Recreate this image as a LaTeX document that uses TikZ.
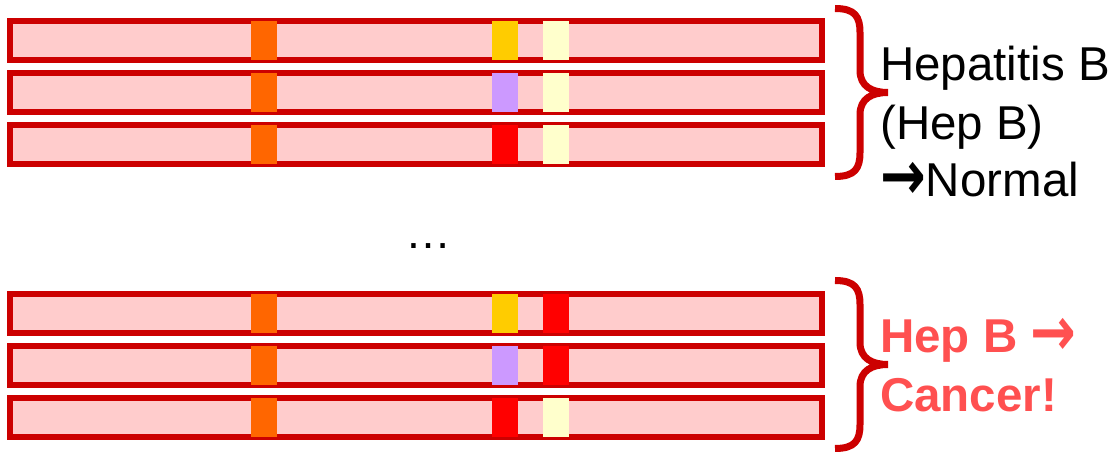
\documentclass[tikz,border=0pt]{standalone}
\usepackage{fontspec}
\setmainfont{Liberation Sans}
\newfontfamily\arrowfont{DejaVu Sans}
\usetikzlibrary{positioning}
\definecolor{chromred}{HTML}{CC0000}
\definecolor{chrompink}{HTML}{FFCCCC}
\definecolor{bandorange}{HTML}{FF6600}
\definecolor{bandyellow}{HTML}{FFCC00}
\definecolor{bandcream}{HTML}{FFFFCC}
\definecolor{bandviolet}{HTML}{CC99FF}
\definecolor{bandred}{HTML}{FF0000}
\definecolor{cancertxt}{HTML}{FF5050}
\newcommand{\bigarr}{\raisebox{-3pt}{\scalebox{1.15}[1.45]{\arrowfont\bfseries →}}}
\tikzset{
  %% Chromosome strip
  chrom/.style={
    rectangle, draw=chromred, fill=chrompink,
    line width=6pt, minimum width=812pt, minimum height=39pt,
    inner sep=0pt
  },
  %% Coloured band on a strip
  band/.style={
    rectangle, fill=#1, minimum width=26pt, minimum height=39pt,
    inner sep=0pt
  },
  band/.default=bandorange,
  %% Curly brace
  brc/.style={draw=chromred, line width=7pt},
  %% Side labels
  lbl/.style={anchor=base west, inner sep=0pt,
              font=\fontsize{47.5}{56}\selectfont},
}

\begin{document}
\begin{tikzpicture}[x=1pt, y=-1pt]
  \useasboundingbox (0,0) rectangle (1112,454);

  %% Strips
  \foreach \y [count=\i] in {40.5, 92.5, 144.5, 314, 366, 418}
    \node[chrom] (chr\i) at (416,\y) {};

  %% Bands: orange, middle, right
  \foreach \i/\cb/\cc in {1/bandyellow/bandcream, 2/bandviolet/bandcream,
                          3/bandred/bandcream, 4/bandyellow/bandred,
                          5/bandviolet/bandred, 6/bandred/bandcream} {
    \node[band]     (orn\i) at ([xshift=-152pt]chr\i.center) {};
    \node[band=\cb] (mid\i) at ([xshift=89pt]chr\i.center) {};
    \node[band=\cc] (rgt\i) at ([xshift=140pt]chr\i.center) {};
  }

  %% Ellipsis between groups
  \node[anchor=base, inner sep=0pt, font=\fontsize{46}{56}\selectfont]
       (dots) at (428,249) {…};

  %% Braces
  \foreach \yt in {8.5, 280.5}
    \draw[brc] (835,\yt) .. controls (855,\yt) and (860,\yt+8) .. (860,\yt+24)
      -- (860,\yt+62) .. controls (860,\yt+78) and (872,\yt+84) .. (888,\yt+84)
      .. controls (872,\yt+84) and (860,\yt+90) .. (860,\yt+106)
      -- (860,\yt+144) .. controls (860,\yt+160) and (855,\yt+168) .. (835,\yt+168);

  %% Labels
  \node[lbl] (hepA) at (880,81)  {Hepatitis B};
  \node[lbl] (hepB) at (880,140) {(Hep B)};
  \node[lbl] (hepC) at (880,197) {\bigarr Normal};
  \node[lbl, text=cancertxt, font=\fontsize{47.5}{56}\selectfont\bfseries]
       (canA) at (880,353) {Hep B \bigarr};
  \node[lbl, text=cancertxt, font=\fontsize{47.5}{56}\selectfont\bfseries]
       (canB) at (880,412) {Cancer!};

\end{tikzpicture}
\end{document}
